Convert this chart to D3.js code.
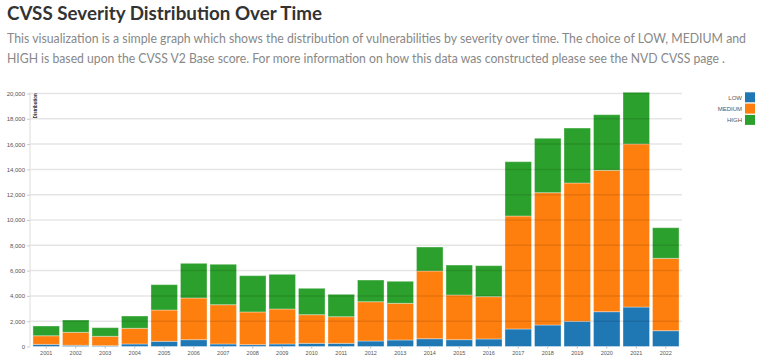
<!DOCTYPE html>
<html>
<head>
<meta charset="utf-8">
<script src="https://cdn.jsdelivr.net/npm/d3@7"></script>
<style>
  body { margin: 0; background: #fff; }
  svg { display: block; }
  .tick text { fill: #555; }
</style>
</head>
<body>
<div id="chart"></div>
<script>
// values
var years = ["2001","2002","2003","2004","2005","2006","2007","2008","2009","2010","2011",
             "2012","2013","2014","2015","2016","2017","2018","2019","2020","2021","2022"];
var low    = [170, 95, 65, 200, 410, 540, 200, 145, 200, 250, 250,
              435, 515, 615, 540, 595, 1385, 1700, 1990, 2750, 3120, 1250];
var medium = [680, 1025, 740, 1240, 2475, 3295, 3105, 2585, 2765, 2265, 2105,
              3105, 2900, 5355, 3530, 3345, 8930, 10460, 10935, 11180, 12890, 5720];
var high   = [770, 975, 685, 970, 2005, 2740, 3195, 2870, 2740, 2085, 1770,
              1715, 1740, 1895, 2370, 2450, 4295, 4300, 4345, 4395, 4085, 2420];
var severities = ["LOW", "MEDIUM", "HIGH"];
var yTicks = [0, 2000, 4000, 6000, 8000, 10000, 12000, 14000, 16000, 18000, 20000];

var svgWidth = 780, svgHeight = 363;
var plotLeft = 30, plotRight = 682, plotTop = 92.3, plotBottom = 346.5;

var svg = d3.select("#chart").append("svg")
    .attr("width", svgWidth)
    .attr("height", svgHeight);

// header text
svg.append("text")
    .attr("x", 7).attr("y", 19.5)
    .attr("textLength", 315).attr("lengthAdjust", "spacingAndGlyphs")
    .style("font-family", "Lato, 'Open Sans', sans-serif")
    .style("font-weight", "bold")
    .style("font-size", "19px")
    .style("fill", "#333")
    .text("CVSS Severity Distribution Over Time");

var desc = [
    "This visualization is a simple graph which shows the distribution of vulnerabilities by severity over time. The choice of LOW, MEDIUM and",
    "HIGH is based upon the CVSS V2 Base score. For more information on how this data was constructed please see the NVD CVSS page ."
];
var descLen = [739, 718];
svg.selectAll(".desc")
    .data(desc)
    .enter().append("text")
    .attr("class", "desc")
    .attr("x", 7)
    .attr("y", function(d, i) { return 43 + i * 20; })
    .attr("textLength", function(d, i) { return descLen[i]; })
    .attr("lengthAdjust", "spacingAndGlyphs")
    .style("font-family", "Lato, 'Open Sans', sans-serif")
    .style("font-size", "12.5px")
    .style("fill", "#888")
    .text(function(d) { return d; });

var data = years.map(function(y, i) {
    return { year: y, LOW: low[i], MEDIUM: medium[i], HIGH: high[i] };
});

var stack = d3.stack().keys(severities);
var series = stack(data);

var color = d3.scaleOrdinal()
    .domain(severities)
    .range(["#1f77b4", "#ff7f0e", "#2ca02c"]);

var xScale = d3.scaleBand()
    .domain(years)
    .range([plotLeft, plotRight])
    .padding(0.1);

var yScale = d3.scaleLinear()
    .domain([0, d3.max(data, function(d) { return d.LOW + d.MEDIUM + d.HIGH; })])
    .range([plotBottom, plotTop]);

// bars
svg.append("g").selectAll("g")
    .data(series)
    .enter().append("g")
    .style("fill", function(d) { return color(d.key); })
    .selectAll("rect")
    .data(function(d) { return d; })
    .enter().append("rect")
    .attr("x", function(d) { return xScale(d.data.year); })
    .attr("y", function(d) { return yScale(d[1]); })
    .attr("width", xScale.bandwidth())
    .attr("height", function(d) { return yScale(d[0]) - yScale(d[1]); })
    .style("stroke", "#fff")
    .style("stroke-opacity", 0.35)
    .style("stroke-width", 1);

// grid lines on top of the bars
svg.append("g").selectAll("line")
    .data(yTicks.slice(1))
    .enter().append("line")
    .attr("x1", plotLeft).attr("x2", plotRight)
    .attr("y1", function(d) { return yScale(d); })
    .attr("y2", function(d) { return yScale(d); })
    .style("stroke", "#000")
    .style("stroke-opacity", 0.1)
    .style("stroke-width", 1.5);

// y axis
var yAxis = svg.append("g")
    .attr("transform", "translate(" + plotLeft + ",0)")
    .call(d3.axisLeft(yScale).tickValues(yTicks).tickFormat(d3.format(",")).tickSize(3).tickPadding(2));
yAxis.selectAll("text").style("font-size", "6px").style("font-family", "'Liberation Sans', Arial, sans-serif");
yAxis.selectAll("line").style("stroke", "#ccc");
yAxis.select(".domain").style("stroke", "#ddd").attr("d", "M0," + plotTop + "V" + plotBottom);

svg.append("text")
    .attr("transform", "translate(37," + (plotTop + 1) + ") rotate(-90)")
    .attr("text-anchor", "end")
    .attr("textLength", 25).attr("lengthAdjust", "spacingAndGlyphs")
    .style("font-family", "'Liberation Sans', Arial, sans-serif")
    .style("font-size", "5px")
    .style("font-weight", "bold")
    .style("fill", "#333")
    .text("Distribution");

// x axis
var xAxis = svg.append("g")
    .attr("transform", "translate(0," + plotBottom + ")")
    .call(d3.axisBottom(xScale).tickSize(2).tickPadding(3).tickSizeOuter(0));
xAxis.selectAll("text").style("font-size", "5.5px").style("font-family", "'Liberation Sans', Arial, sans-serif");
xAxis.selectAll("line").style("stroke", "#bbb");
xAxis.select(".domain").style("stroke", "none");

// legend
var legend = svg.append("g").selectAll("g")
    .data(severities)
    .enter().append("g")
    .attr("transform", function(d, i) { return "translate(745," + (92.3 + i * 11.3) + ")"; });

legend.append("rect")
    .attr("width", 10).attr("height", 10)
    .style("fill", function(d) { return color(d); });

legend.append("text")
    .attr("x", -3).attr("y", 7.3)
    .attr("text-anchor", "end")
    .style("font-family", "'Liberation Sans', Arial, sans-serif")
    .style("font-size", "6px")
    .style("fill", "#555")
    .text(function(d) { return d; });
</script>
</body>
</html>
